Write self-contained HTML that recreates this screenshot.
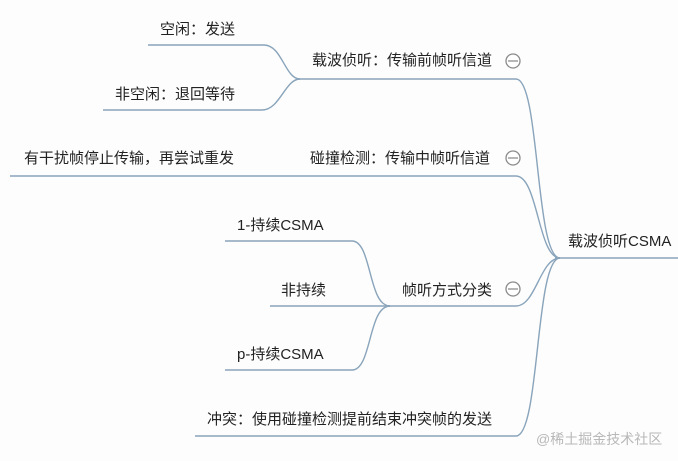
<!DOCTYPE html>
<html><head><meta charset="utf-8"><style>
html,body{margin:0;padding:0;background:#fdfdfd;}
#c{position:relative;width:678px;height:461px;overflow:hidden;font-family:"Liberation Sans","Noto Sans CJK SC",sans-serif;font-size:15px;color:#222;}
.t{position:absolute;white-space:nowrap;line-height:18px;}
</style></head><body><div id="c">
<svg width="678" height="461" style="position:absolute;left:0;top:0">
<g fill="none" stroke="#89a4bb" stroke-width="1.4">
<path d="M148 45 H264 C282 45 285 79 300 79"/>
<path d="M103 110 H262 C280 110 285 79 300 79"/>
<path d="M298 79 H516 C540 79 535 258 560 258"/>
<path d="M10 176 H516 C538 176 538 258 560 258"/>
<path d="M225 241 H352 C372 241 368 306 390 306"/>
<path d="M270 306 H390"/>
<path d="M225 370 H352 C372 370 368 306 390 306"/>
<path d="M388 306 H516 C536 306 540 258 560 258"/>
<path d="M195 436 H516 C540 436 535 258 560 258"/>
<path d="M555 258 H678"/>
</g>
<g fill="#fff" stroke="#8a8a8a" stroke-width="1.3">
<circle cx="513" cy="61" r="7"/><circle cx="513" cy="158" r="7"/><circle cx="513" cy="289" r="7"/>
</g>
<g stroke="#8a8a8a" stroke-width="1.3"><path d="M508 61H518M508 158H518M508 289H518"/></g>
</svg>
<div class="t" style="left:160px;top:21px">空闲：发送</div>
<div class="t" style="left:115px;top:86px">非空闲：退回等待</div>
<div class="t" style="left:312px;top:52px">载波侦听：传输前帧听信道</div>
<div class="t" style="left:24px;top:150px">有干扰帧停止传输，再尝试重发</div>
<div class="t" style="left:310px;top:150px">碰撞检测：传输中帧听信道</div>
<div class="t" style="left:237px;top:217px">1-持续CSMA</div>
<div class="t" style="left:281px;top:282px">非持续</div>
<div class="t" style="left:402px;top:282px">帧听方式分类</div>
<div class="t" style="left:237px;top:346px">p-持续CSMA</div>
<div class="t" style="left:207px;top:411px">冲突：使用碰撞检测提前结束冲突帧的发送</div>
<div class="t" style="left:568px;top:233px">载波侦听CSMA</div>
<div class="t" style="left:536px;top:430px;color:#b8b8b8;font-size:14px">@稀土掘金技术社区</div>
</div></body></html>
